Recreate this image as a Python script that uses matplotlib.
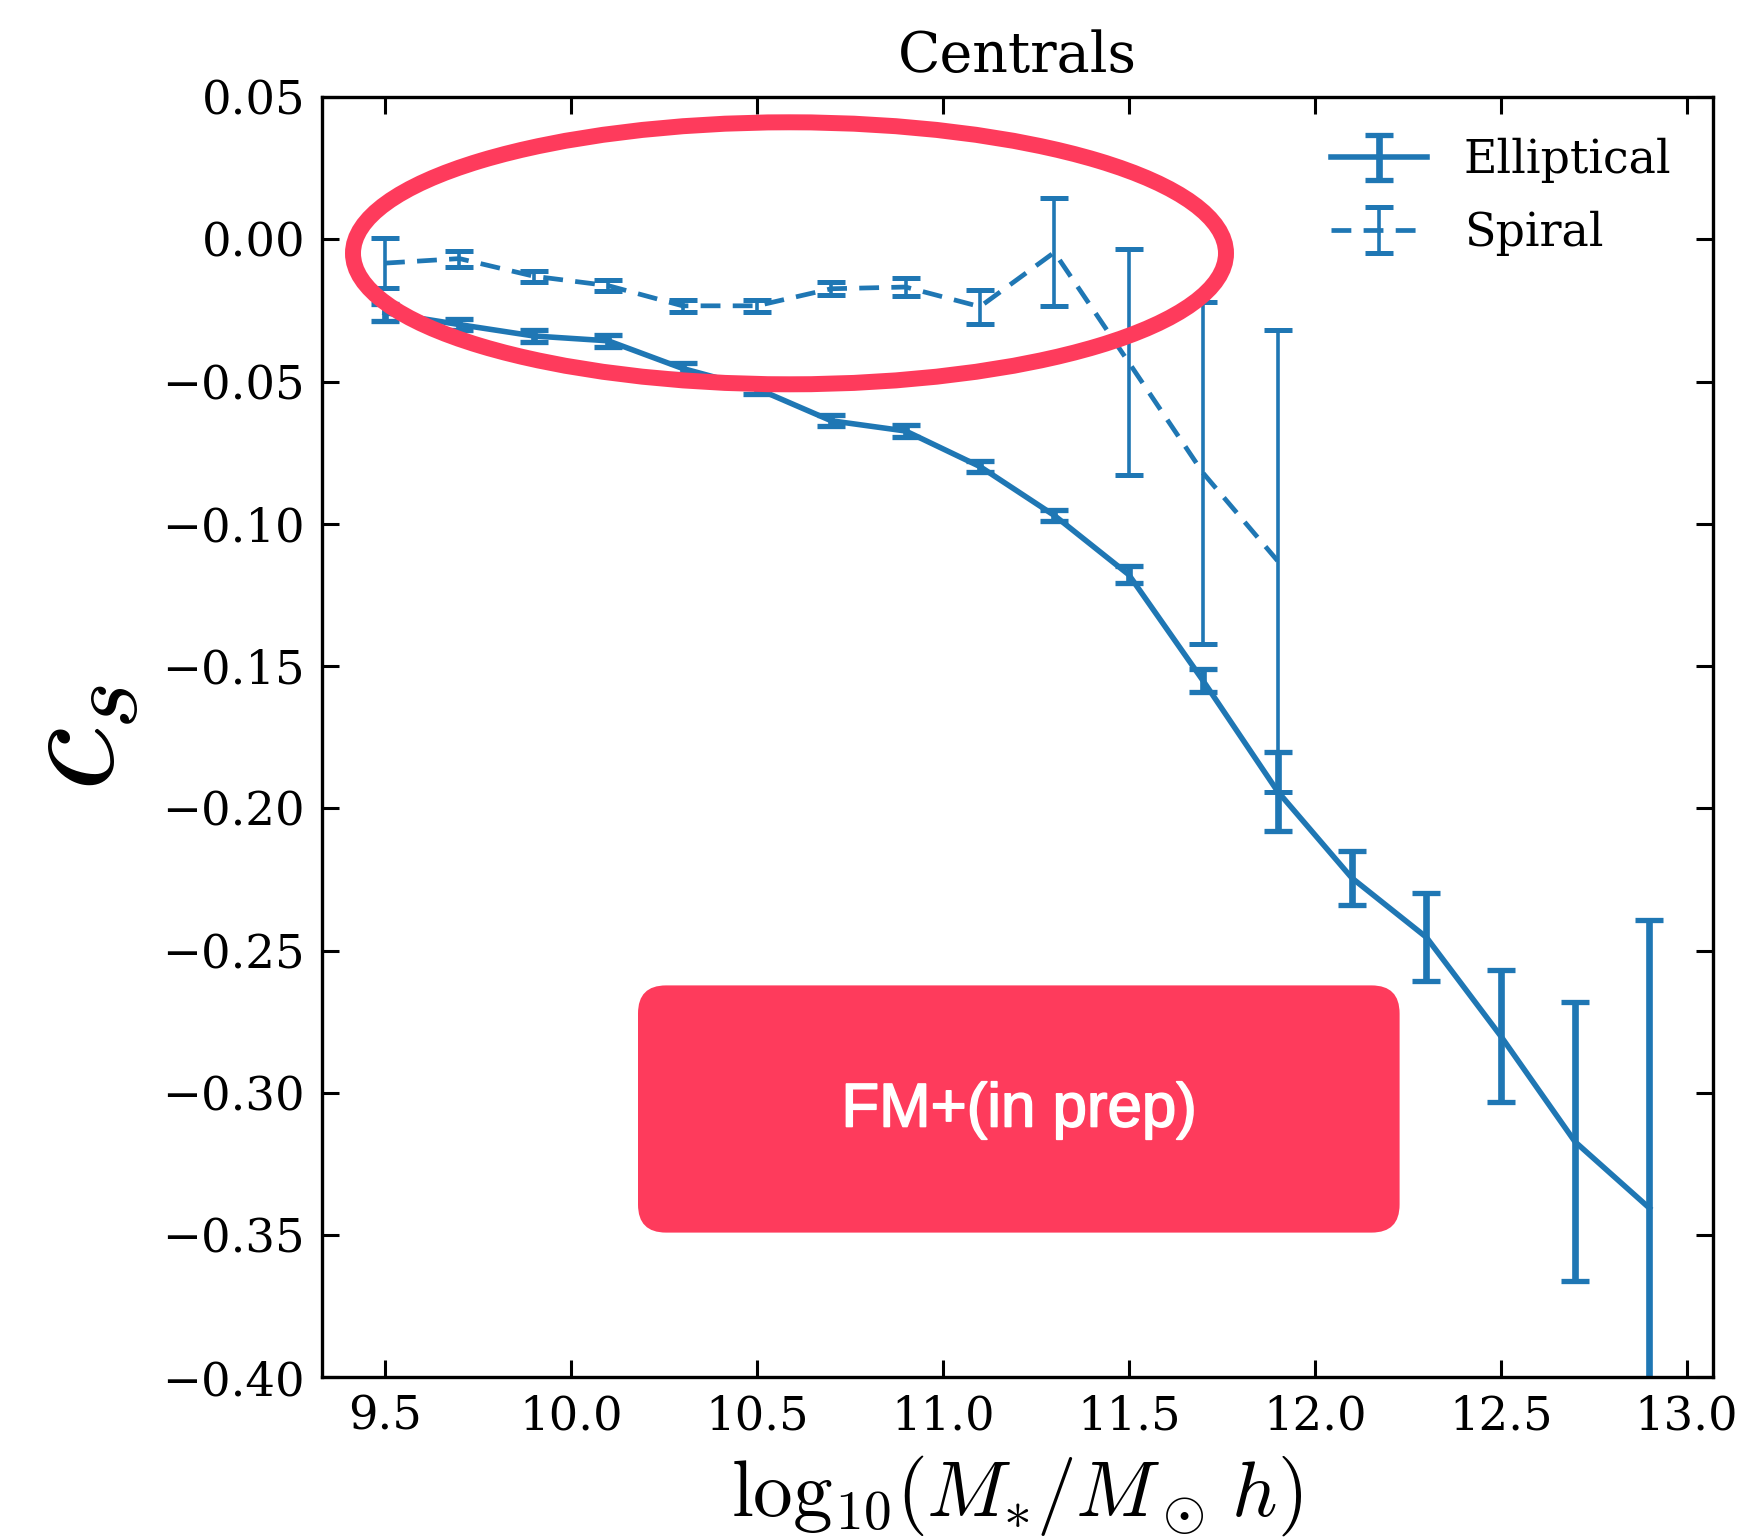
import matplotlib
matplotlib.use("Agg")
import matplotlib.pyplot as plt
import matplotlib.patheffects as pe
from matplotlib.patches import Ellipse, FancyBboxPatch
from matplotlib.transforms import IdentityTransform
import numpy as np

plt.rcParams["font.family"] = ["DejaVu Serif"]
plt.rcParams["mathtext.fontset"] = "cm"

# stellar-mass bins
mass_ell = [9.5, 9.7, 9.9, 10.1, 10.3, 10.5, 10.7, 10.9, 11.1, 11.3, 11.5, 11.7,
            11.9, 12.1, 12.3, 12.5, 12.7, 12.9]
cs_ell = [-0.0258, -0.0300, -0.0340, -0.0357, -0.0454, -0.0525, -0.0638, -0.0674,
          -0.0799, -0.0971, -0.1179, -0.1552, -0.1940, -0.2245, -0.2453, -0.2800,
          -0.3172, -0.3405]
err_ell = [0.0030, 0.0018, 0.0020, 0.0020, 0.0018, 0.0018, 0.0020, 0.0020,
           0.0020, 0.0020, 0.0030, 0.0040, 0.0138, 0.0096, 0.0155, 0.0233,
           0.0490, 0.1013]

mass_spi = [9.5, 9.7, 9.9, 10.1, 10.3, 10.5, 10.7, 10.9, 11.1, 11.3, 11.5, 11.7, 11.9]
cs_spi = [-0.0084, -0.0068, -0.0130, -0.0163, -0.0234, -0.0234, -0.0174, -0.0168,
          -0.0237, -0.0046, -0.0433, -0.0822, -0.1130]
err_spi = [0.0088, 0.0028, 0.0020, 0.0020, 0.0020, 0.0022, 0.0022, 0.0032,
           0.0060, 0.0190, 0.0397, 0.0600, 0.0812]

blue = "#1f77b4"
red = "#FE3B5C"

W, H = 1746, 1539
fig = plt.figure(figsize=(W / 100, H / 100), dpi=100)
ax = fig.add_axes([0.1843, 0.1050, 0.7966, 0.8320])

ax.errorbar(mass_ell, cs_ell, yerr=err_ell, fmt="-", color=blue, lw=4.0,
            elinewidth=4.8, capsize=10, capthick=3.8, label="Elliptical")
ax.errorbar(mass_spi, cs_spi, yerr=err_spi, fmt="-", ls=(0, (4.2, 2.6)),
            color=blue, lw=3.4, elinewidth=2.6, capsize=10, capthick=3.6,
            label="Spiral")

ax.set_ylim(-0.40, 0.05)
ax.set_yticks(np.arange(-0.40, 0.0501, 0.05))
ax.set_xticks(np.arange(9.5, 13.01, 0.5))

for s in ax.spines.values():
    s.set_linewidth(2.4)
ax.tick_params(direction="in", top=True, right=True, length=12, width=2.2,
               labelsize=33.5, pad=12)

ax.set_title("Centrals", fontsize=40, pad=18)
ax.set_xlabel(r"$\mathrm{log}_{10}(M_{*}/M_\odot\, h)$", fontsize=57, labelpad=10)
ax.set_ylabel(r"$c_s$", fontsize=104, labelpad=14)

ax.legend(loc="upper right", frameon=False, fontsize=33, handlelength=2.1,
          labelspacing=0.6)

# highlight ring around the low-mass spiral trend
ring = Ellipse((789.5, H - 253.3), 873, 262, fill=False, edgecolor=red,
               lw=11.5, transform=IdentityTransform(), zorder=10)
fig.patches.append(ring)

# status badge
badge = FancyBboxPatch((638, H - 1232.6), 761.6, 247.2,
                       boxstyle="round,pad=0,rounding_size=28",
                       facecolor=red, edgecolor="none",
                       transform=IdentityTransform(), zorder=10)
fig.patches.append(badge)
fig.text(1019 / W, 1 - 1111 / H, "FM+(in prep)", color="white", fontsize=44.5,
         family=["Liberation Sans", "DejaVu Sans"], ha="center", va="center",
         zorder=11,
         path_effects=[pe.withStroke(linewidth=1.2, foreground="white")])

fig.savefig("out.png", dpi=100)
